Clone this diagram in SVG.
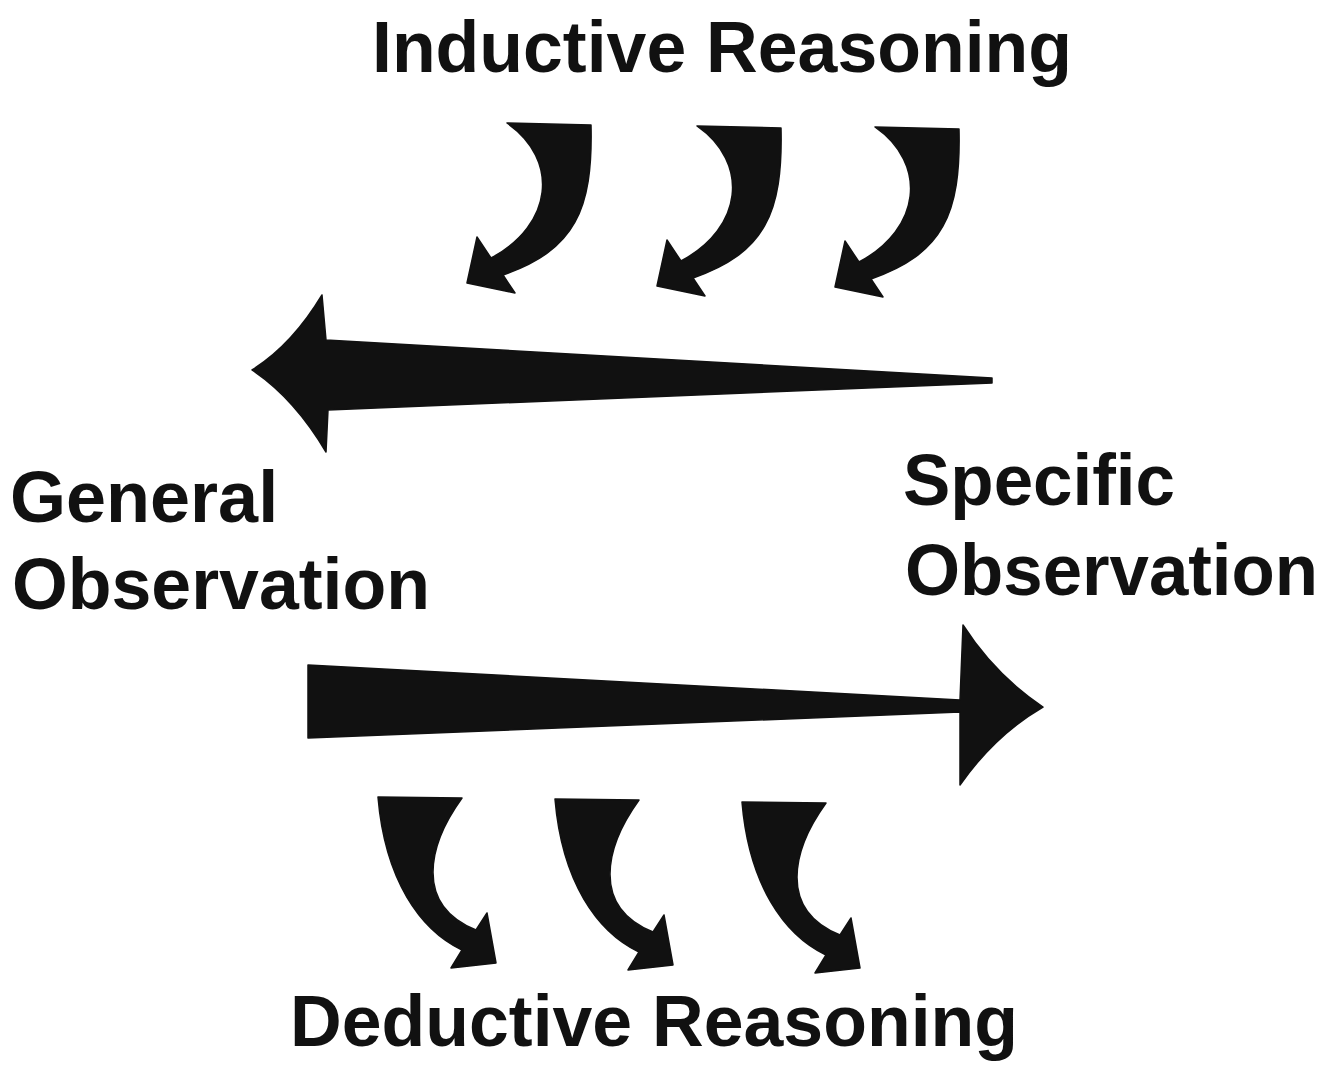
<svg xmlns="http://www.w3.org/2000/svg" width="1330" height="1074" viewBox="0 0 1330 1074">
  <defs>
    <style>
      .lbl { font-family: "Liberation Sans", Arial, Helvetica, sans-serif; font-weight: bold; font-size: 72px; fill: #111; }
      .arw { fill: #111; stroke: #111; stroke-width: 1.5; stroke-linejoin: round; }
    </style>
    <path id="indArrow" d="M507,123 L591,125 C593,210 575,250 503,275 L515,293 L467,283 L477,237 L491,258 C553,225 560,160 507,123 Z"/>
    <path id="dedArrow" d="M378,797 L462,798 C428,845 414,905 476,930 L487,913 L496,963 L451,968 L462,950 C420,930 385,880 378,797 Z"/>
  </defs>
  <rect width="1330" height="1074" fill="#ffffff"/>

  <g id="label-inductive"><text class="lbl" x="372" y="72" textLength="700" lengthAdjust="spacingAndGlyphs">Inductive Reasoning</text></g>
  <g id="label-general"><text class="lbl" x="10" y="522">General</text><text class="lbl" x="12" y="609" textLength="418" lengthAdjust="spacingAndGlyphs">Observation</text></g>
  <g id="label-specific"><text class="lbl" x="903" y="505" textLength="272" lengthAdjust="spacingAndGlyphs">Specific</text><text class="lbl" x="905" y="595" textLength="413" lengthAdjust="spacingAndGlyphs">Observation</text></g>
  <g id="label-deductive"><text class="lbl" x="290" y="1046" textLength="728" lengthAdjust="spacingAndGlyphs">Deductive Reasoning</text></g>

  <g id="connectors">
    <g id="inductive-curved">
      <use href="#indArrow" class="arw"/>
      <use href="#indArrow" class="arw" transform="translate(190,3)"/>
      <use href="#indArrow" class="arw" transform="translate(368,4)"/>
    </g>
    <path id="arrow-to-general" class="arw" d="M252,370 Q292,345 322,295 L326,340 L992,378 L992,383 L328,410 L326,452 Q294,398 252,370 Z"/>
    <path id="arrow-to-specific" class="arw" d="M308,665 L960,700 L963,625 Q995,675 1043,707 Q995,735 960,785 L960,712 L308,738 Z"/>
    <g id="deductive-curved">
      <use href="#dedArrow" class="arw"/>
      <use href="#dedArrow" class="arw" transform="translate(177,2)"/>
      <use href="#dedArrow" class="arw" transform="translate(364,5)"/>
    </g>
  </g>
</svg>
